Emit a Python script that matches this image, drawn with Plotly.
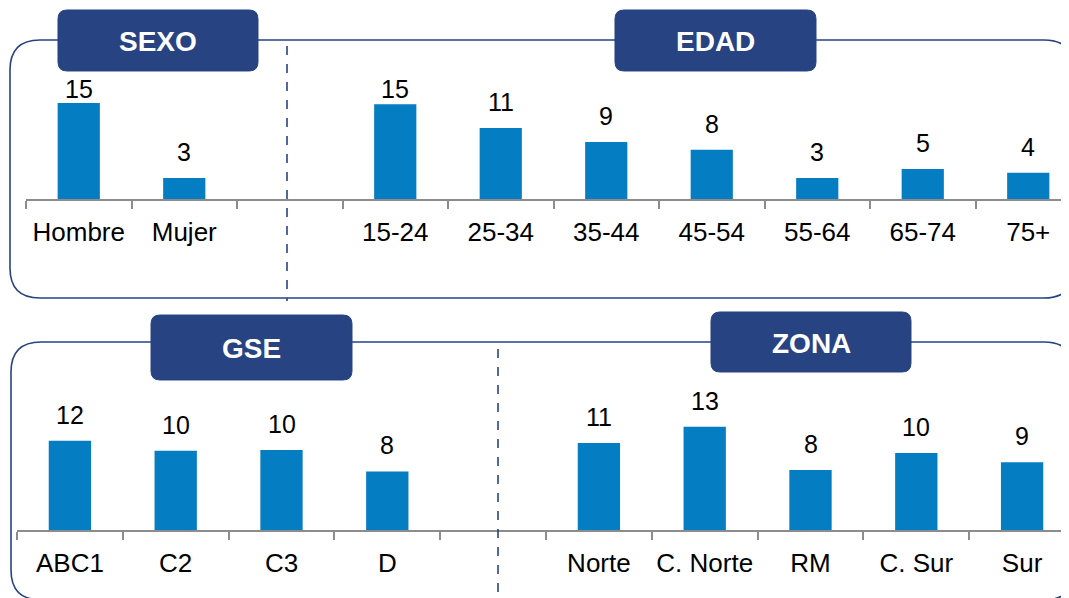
"""Perfil de la muestra: SEXO / EDAD (arriba) y GSE / ZONA (abajo)."""

import plotly.graph_objects as go

# ---------------------------------------------------------------------------
# Datos
# ---------------------------------------------------------------------------
sexo_cats = ["Hombre", "Mujer"]
sexo_vals = [15.0, 3.3]

edad_cats = ["15-24", "25-34", "35-44", "45-54", "55-64", "65-74", "75+"]
edad_vals = [14.8, 11.1, 8.9, 7.7, 3.3, 4.7, 4.1]

gse_cats = ["ABC1", "C2", "C3", "D"]
gse_vals = [11.6, 10.3, 10.4, 7.6]

zona_cats = ["Norte", "C. Norte", "RM", "C. Sur", "Sur"]
zona_vals = [11.3, 13.4, 7.8, 10.0, 8.8]

# ---------------------------------------------------------------------------
# Estilo
# ---------------------------------------------------------------------------
W, H = 1069, 598
OFF = 8  # the page body margin pushes the figure 8px right and down
_BAR = "#057DC3"
_NAVY = "#284382"
_AXIS = "#8C8C8C"
_FONT = "Liberation Sans, Arial, sans-serif"


# screen px -> paper helpers (margins are zero)
def px(x):
    return (x - OFF) / W


def py(y):
    return 1 - (y - OFF) / H


def rounded_rect(x0, y0, x1, y1, r):
    """SVG path (paper coords) for a rounded rectangle given in pixels."""
    pts = [
        ("M", x0 + r, y0),
        ("L", x1 - r, y0),
        ("Q", x1, y0, x1, y0 + r),
        ("L", x1, y1 - r),
        ("Q", x1, y1, x1 - r, y1),
        ("L", x0 + r, y1),
        ("Q", x0, y1, x0, y1 - r),
        ("L", x0, y0 + r),
        ("Q", x0, y0, x0 + r, y0),
    ]
    out = []
    for p in pts:
        cmd, coords = p[0], p[1:]
        xy = []
        for i in range(0, len(coords), 2):
            xy.append(f"{px(coords[i]):.5f},{py(coords[i + 1]):.5f}")
        out.append(cmd + " " + " ".join(xy))
    return " ".join(out) + " Z"


# panel geometry (screen pixels)
TOP_BASE, TOP_PLOT_TOP, TOP_PPU = 199, 99, 6.4
BOT_BASE, BOT_PLOT_TOP, BOT_PPU = 530, 380, 7.7
TOP_X0, TOP_SLOT = 26, 105.5
BOT_X0, BOT_SLOT = 17, 105.8
RIGHT = OFF + W
LABEL_GAP = 16

top_order = sexo_cats + [" "] + edad_cats
bot_order = gse_cats + [" "] + zona_cats

fig = go.Figure()

for cats, vals, ax in [
    (sexo_cats, sexo_vals, "x"),
    (edad_cats, edad_vals, "x"),
    (gse_cats, gse_vals, "x2"),
    (zona_cats, zona_vals, "x2"),
]:
    fig.add_trace(
        go.Bar(
            x=cats,
            y=vals,
            xaxis=ax,
            yaxis="y" if ax == "x" else "y2",
            marker={"color": _BAR, "line": {"width": 0}},
            hoverinfo="x+y",
        )
    )

# value labels above the bars, pushed down when they hit the plot top
annotations = []
for cats, vals, ax, base, top, ppu in [
    (sexo_cats, sexo_vals, "x", TOP_BASE, TOP_PLOT_TOP, TOP_PPU),
    (edad_cats, edad_vals, "x", TOP_BASE, TOP_PLOT_TOP, TOP_PPU),
    (gse_cats, gse_vals, "x2", BOT_BASE, BOT_PLOT_TOP, BOT_PPU),
    (zona_cats, zona_vals, "x2", BOT_BASE, BOT_PLOT_TOP, BOT_PPU),
]:
    ymax = (base - top) / ppu
    for c, v in zip(cats, vals):
        shift = min(LABEL_GAP, (ymax - v) * ppu)
        annotations.append(
            dict(
                x=c,
                y=v,
                xref=ax,
                yref="y" if ax == "x" else "y2",
                text=f"{v:.0f}",
                showarrow=False,
                yanchor="bottom",
                yshift=shift - 6,
                font={"family": _FONT, "size": 25, "color": "#000000"},
            )
        )

# header tabs
tabs = [
    ("SEXO", 58, 10, 258, 71),
    ("EDAD", 615, 10, 816, 71),
    ("GSE", 151, 315, 352, 380),
    ("ZONA", 711, 312, 911, 372),
]

shapes = [
    # panel borders
    dict(type="path", xref="paper", yref="paper",
         path=rounded_rect(10, 40, 1074, 298, 30),
         line={"color": _NAVY, "width": 1.6}, layer="below"),
    dict(type="path", xref="paper", yref="paper",
         path=rounded_rect(11, 342, 1074, 600, 30),
         line={"color": _NAVY, "width": 1.6}, layer="below"),
    # dashed separators
    dict(type="line", xref="paper", yref="paper",
         x0=px(287), x1=px(287), y0=py(46), y1=py(301),
         line={"color": _NAVY, "width": 1.6, "dash": "dash"}),
    dict(type="line", xref="paper", yref="paper",
         x0=px(498), x1=px(498), y0=py(349), y1=py(600),
         line={"color": _NAVY, "width": 1.6, "dash": "dash"}),
]

for label, x0, y0, x1, y1 in tabs:
    shapes.append(
        dict(type="path", xref="paper", yref="paper",
             path=rounded_rect(x0, y0, x1, y1, 9),
             fillcolor=_NAVY, line={"color": _NAVY, "width": 1})
    )
    annotations.append(
        dict(
            x=px((x0 + x1) / 2),
            y=py((y0 + y1) / 2 + 1),
            xref="paper",
            yref="paper",
            text=f"<b>{label}</b>",
            showarrow=False,
            xanchor="center",
            yanchor="middle",
            font={"family": _FONT, "size": 28, "color": "#FFFFFF"},
        )
    )

xaxis_common = dict(
    type="category",
    categoryorder="array",
    tickson="boundaries",
    ticks="outside",
    ticklen=8,
    tickwidth=1.5,
    tickcolor=_AXIS,
    tickangle=0,
    automargin=False,
    showline=True,
    linecolor=_AXIS,
    linewidth=2,
    showgrid=False,
    zeroline=False,
    ticklabelstandoff=9,
    tickfont={"family": _FONT, "size": 26, "color": "#000000"},
    fixedrange=True,
)

fig.update_layout(
    width=W,
    height=H,
    margin={"l": 0, "r": 0, "t": 0, "b": 0},
    paper_bgcolor="white",
    plot_bgcolor="rgba(0,0,0,0)",
    showlegend=False,
    barmode="overlay",
    bargap=0.6,
    xaxis=dict(
        xaxis_common,
        categoryarray=top_order,
        domain=[px(TOP_X0), 1],
        range=[-0.5, -0.5 + (RIGHT - TOP_X0) / TOP_SLOT],
        anchor="y",
    ),
    yaxis=dict(
        domain=[py(TOP_BASE), py(TOP_PLOT_TOP)],
        range=[0, (TOP_BASE - TOP_PLOT_TOP) / TOP_PPU],
        visible=False,
        fixedrange=True,
        anchor="x",
    ),
    xaxis2=dict(
        xaxis_common,
        categoryarray=bot_order,
        domain=[px(BOT_X0), 1],
        range=[-0.5, -0.5 + (RIGHT - BOT_X0) / BOT_SLOT],
        anchor="y2",
    ),
    yaxis2=dict(
        domain=[py(BOT_BASE), py(BOT_PLOT_TOP)],
        range=[0, (BOT_BASE - BOT_PLOT_TOP) / BOT_PPU],
        visible=False,
        fixedrange=True,
        anchor="x2",
    ),
    shapes=shapes,
    annotations=annotations,
)

fig.write_html("out.html")
